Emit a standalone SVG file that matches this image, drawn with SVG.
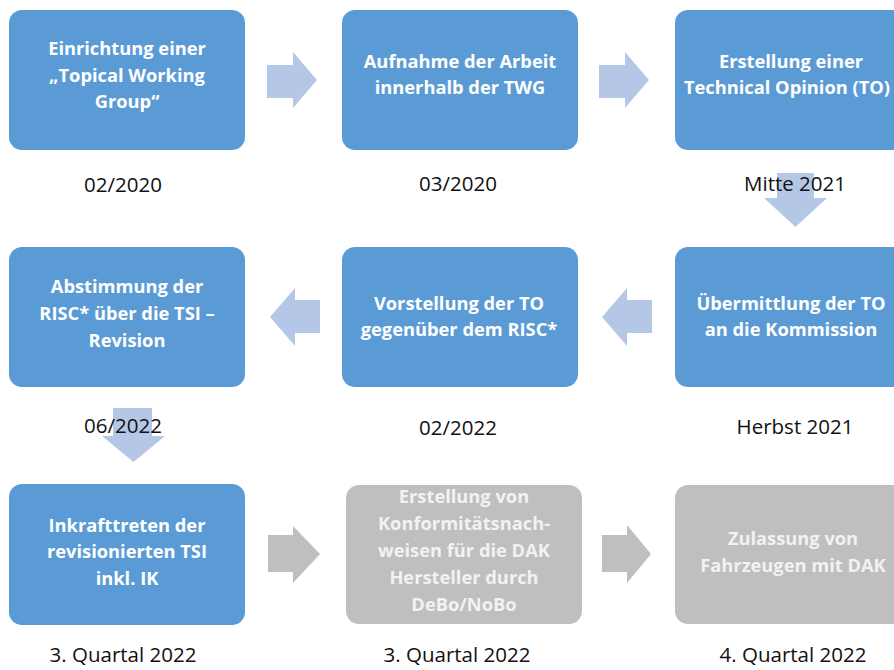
<svg xmlns="http://www.w3.org/2000/svg" width="894" height="670" viewBox="0 0 894 670">
<style>
.box{fill:#5b9bd5}
.gbox{fill:#bfbfbf}
.t{font-family:"Open Sans","Liberation Sans",Arial,sans-serif;font-weight:bold;font-size:18.3px;fill:#ffffff;text-anchor:middle}
.gt{fill:#f2f2f2}
.d{font-family:"Open Sans","Liberation Sans",Arial,sans-serif;font-size:20.5px;fill:#111111;text-anchor:middle}
.la{fill:#b4c7e7}
.ga{fill:#bfbfbf}
</style>
<rect width="894" height="670" fill="#ffffff"/>
<g id="connectors">
<polygon class="la" points="267,65 293,65 293,52 317,80 293,108 293,98 267,98"/>
<polygon class="la" points="599,65 625,65 625,52 649,80 625,108 625,98 599,98"/>
<polygon class="la" points="777,173 814,173 814,198 827,198 795.5,227 764,198 777,198"/>
<polygon class="la" points="652,300 627,300 627,288 602,317 627,346 627,333 652,333"/>
<polygon class="la" points="320,300 295,300 295,288 270,317 295,346 295,333 320,333"/>
<polygon class="la" points="113,408 152,408 152,436 165,436 133.5,462 102,436 113,436"/>
<polygon class="ga" points="268,535 293,535 293,526 320,554 293,583 293,572 268,572"/>
<polygon class="ga" points="602,535 627,535 627,525 651,554 627,583 627,572 602,572"/>
</g>
<g id="n1">
<rect class="box" x="9" y="10" width="236" height="140" rx="13"/>
<text class="t" x="127" y="55">Einrichtung einer</text>
<text class="t" x="127" y="81.5">„Topical Working</text>
<text class="t" x="127" y="108">Group“</text>
<text class="d" x="123" y="192">02/2020</text>
</g>
<g id="n2">
<rect class="box" x="342" y="10" width="236" height="140" rx="13"/>
<text class="t" x="460" y="68">Aufnahme der Arbeit</text>
<text class="t" x="460" y="94">innerhalb der TWG</text>
<text class="d" x="458" y="191">03/2020</text>
</g>
<g id="n3">
<rect class="box" x="675" y="10" width="236" height="140" rx="13"/>
<text class="t" x="791" y="68">Erstellung einer</text>
<text class="t" x="787" y="94">Technical Opinion (TO)</text>
<text class="d" x="795" y="191">Mitte 2021</text>
</g>
<g id="n4">
<rect class="box" x="675" y="247" width="236" height="140" rx="13"/>
<text class="t" x="791" y="310">Übermittlung der TO</text>
<text class="t" x="791" y="336">an die Kommission</text>
<text class="d" x="795" y="434">Herbst 2021</text>
</g>
<g id="n5">
<rect class="box" x="342" y="247" width="236" height="140" rx="13"/>
<text class="t" x="459" y="310">Vorstellung der TO</text>
<text class="t" x="459" y="336">gegenüber dem RISC*</text>
<text class="d" x="458" y="435">02/2022</text>
</g>
<g id="n6">
<rect class="box" x="9" y="247" width="236" height="140" rx="13"/>
<text class="t" x="127" y="293">Abstimmung der</text>
<text class="t" x="127" y="320">RISC* über die TSI –</text>
<text class="t" x="127" y="347">Revision</text>
<text class="d" x="123" y="433">06/2022</text>
</g>
<g id="n7">
<rect class="box" x="9" y="484" width="236" height="141" rx="13"/>
<text class="t" x="127" y="532">Inkrafttreten der</text>
<text class="t" x="127" y="558">revisionierten TSI</text>
<text class="t" x="127" y="585">inkl. IK</text>
<text class="d" x="123" y="662">3. Quartal 2022</text>
</g>
<g id="n8">
<rect class="gbox" x="346" y="485" width="236" height="139" rx="13"/>
<text class="t gt" x="464" y="503">Erstellung von</text>
<text class="t gt" x="464" y="530">Konformitätsnach-</text>
<text class="t gt" x="464" y="557">weisen für die DAK</text>
<text class="t gt" x="464" y="584">Hersteller durch</text>
<text class="t gt" x="464" y="611">DeBo/NoBo</text>
<text class="d" x="457" y="662">3. Quartal 2022</text>
</g>
<g id="n9">
<rect class="gbox" x="675" y="485" width="236" height="139" rx="13"/>
<text class="t gt" x="793" y="545">Zulassung von</text>
<text class="t gt" x="793" y="572">Fahrzeugen mit DAK</text>
<text class="d" x="793" y="662">4. Quartal 2022</text>
</g>
</svg>
